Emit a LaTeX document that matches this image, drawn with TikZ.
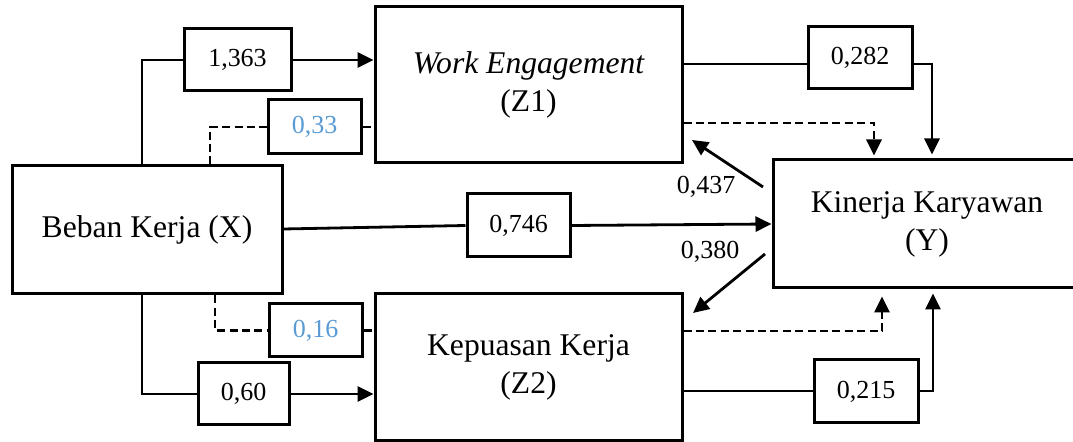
\documentclass[tikz,border=0pt]{standalone}
\usepackage{fontspec}
\setmainfont{Liberation Serif}
\usetikzlibrary{arrows.meta}
\definecolor{numblue}{RGB}{91,155,213}
\tikzset{
  box/.style={draw, line width=1.5pt, inner sep=0pt, align=center, font=\fontsize{15.8}{19}\selectfont},
  numbox/.style={draw, line width=1.5pt, inner sep=0pt, align=center, font=\fontsize{13}{15}\selectfont},
  conn/.style={line width=1.4pt},
  arr/.style={line width=1.4pt, -{Triangle[length=8pt,width=7.5pt]}},
  dsh/.style={dash pattern=on 4pt off 2.2pt},
  lbl/.style={font=\fontsize{13}{15}\selectfont, inner sep=0pt}
}
\begin{document}
\begin{tikzpicture}[x=0.5pt, y=-0.5pt]
\useasboundingbox (0,0) rectangle (1073,442);
% main boxes
\node[box, minimum width=135pt, minimum height=64pt] (X) at (147,230) {Beban Kerja (X)};
\node[box, minimum width=153.5pt, minimum height=78pt] (Z1) at (528.5,85) {\itshape Work Engagement\\(Z1)};
\node[box, minimum width=153.5pt, minimum height=73.5pt] (Z2) at (528.5,367.5) {Kepuasan Kerja\\(Z2)};
\node[box, minimum width=154pt, minimum height=64pt] (Y) at (927,224) {Kinerja Karyawan\\(Y)};
% number boxes
\node[numbox, minimum width=53.5pt, minimum height=31pt] (b1363) at (237.5,60) {1,363};
\node[numbox, minimum width=46.5pt, minimum height=27pt, text=numblue] (b033) at (314.5,127) {0,33};
\node[numbox, minimum width=51.5pt, minimum height=31.5pt] (b746) at (518.5,225.5) {0,746};
\node[numbox, minimum width=46.5pt, minimum height=26.5pt, text=numblue] (b016) at (315.5,330.5) {0,16};
\node[numbox, minimum width=45.5pt, minimum height=31pt] (b060) at (243.5,394) {0,60};
\node[numbox, minimum width=52pt, minimum height=31pt] (b282) at (860,58) {0,282};
\node[numbox, minimum width=52pt, minimum height=31.5pt] (b215) at (866,391.5) {0,215};
% labels
\node[lbl] (l437) at (706,187) {0,437};
\node[lbl] (l380) at (710,252) {0,380};
% helper coordinates
\coordinate (j1) at (142,0);
\coordinate (j2) at (210,0);
\coordinate (j3) at (932,0);
\coordinate (j4) at (874,0);
\coordinate (j5) at (215,0);
\coordinate (j7) at (882,0);
\coordinate (j8) at (933,0);
\coordinate (h1) at (0,64);
\coordinate (h2) at (0,123);
\coordinate (h3) at (0,331);
\coordinate (h4) at (0,391);
\coordinate (xa) at (0,229);
\coordinate (ya) at (0,224);
\coordinate (p1) at (763,187);
\coordinate (p2) at (692,140);
\coordinate (p3) at (765,254);
\coordinate (p4) at (693,313);
% X -> Z1
\draw[conn] (X.north -| j1) |- (b1363.west);
\draw[arr] (b1363.east) -- (b1363.east -| Z1.west);
\draw[conn,dsh] (X.north -| j2) |- (b033.west);
\draw[conn,dsh] (b033.east) -- (b033.east -| Z1.west);
% X -> Y
\draw[conn] (X.east |- xa) -- (b746.west);
\draw[arr] (b746.east) -- (Y.west |- ya);
% X -> Z2
\draw[conn] (X.south -| j1) |- (b060.west);
\draw[arr] (b060.east) -- (b060.east -| Z2.west);
\draw[conn,dsh] (X.south -| j5) |- (b016.west);
\draw[conn,dsh] (b016.east) -- (b016.east -| Z2.west);
% Z1 -> Y
\draw[conn] (Z1.east |- h1) -- (b282.west |- h1);
\draw[arr, shorten >=2pt] (b282.east |- h1) -| (Y.north -| j3);
\draw[arr, dsh, shorten >=1.5pt] (Z1.east |- h2) -| (Y.north -| j4);
% Z2 -> Y
\draw[conn] (Z2.east |- h4) -- (b215.west |- h4);
\draw[arr, shorten >=2pt] (b215.east |- h4) -| (Y.south -| j8);
\draw[arr, dsh, shorten >=3.5pt] (Z2.east |- h3) -| (Y.south -| j7);
% Y -> Z1, Y -> Z2
\draw[arr] (p1) -- (p2);
\draw[arr] (p3) -- (p4);
\end{tikzpicture}
\end{document}
